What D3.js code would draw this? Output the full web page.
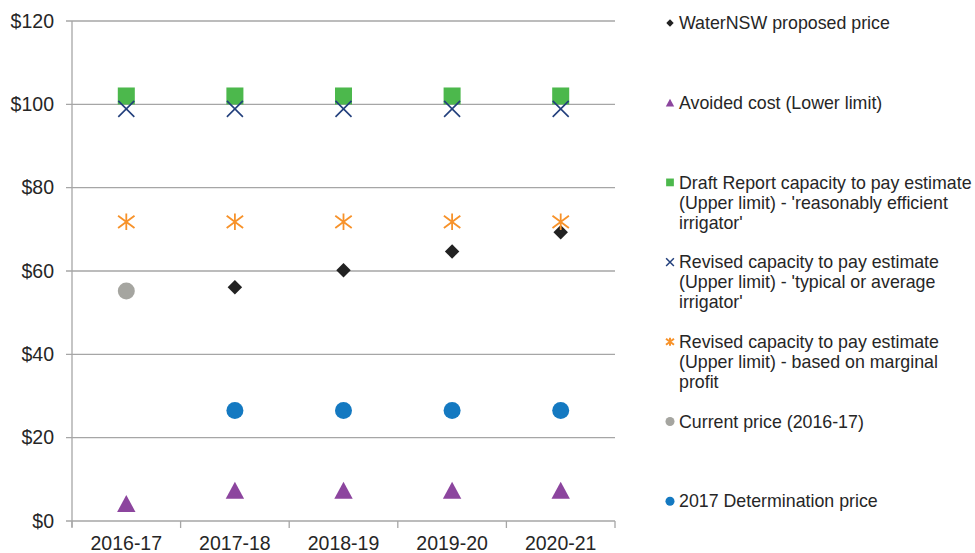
<!DOCTYPE html>
<html>
<head>
<meta charset="utf-8">
<script src="https://cdn.jsdelivr.net/npm/d3@7"></script>
<style>
  body { margin: 0; background: #fff; }
  svg text { font-family: "Liberation Sans", Arial, sans-serif; fill: #262626; }
</style>
</head>
<body>
<div id="chart"></div>
<script>
// categories and tick labels
var years = ["2016-17", "2017-18", "2018-19", "2019-20", "2020-21"];
var yTicks = [0, 20, 40, 60, 80, 100, 120];

// series values ($ per ML), null = no point
var waterNSW    = [null, 56.1, 60.2, 64.7, 69.3];
var avoidedCost = [4.2, 7.4, 7.4, 7.4, 7.4];
var draftCtp    = [102, 102, 102, 102, 102];
var revisedTyp  = [98.9, 98.9, 98.9, 98.9, 98.9];
var revisedMarg = [71.8, 71.8, 71.8, 71.8, 71.8];
var currentPrice = [55.2, null, null, null, null];
var determination = [null, 26.5, 26.5, 26.5, 26.5];

// legend labels (one array of lines per series)
var legendLabels = [
    ["WaterNSW proposed price"],
    ["Avoided cost (Lower limit)"],
    ["Draft Report capacity to pay estimate", "(Upper limit) - 'reasonably efficient", "irrigator'"],
    ["Revised capacity to pay estimate", "(Upper limit) - 'typical or average", "irrigator'"],
    ["Revised capacity to pay estimate", "(Upper limit) - based on marginal", "profit"],
    ["Current price (2016-17)"],
    ["2017 Determination price"]
];

// custom marker shapes
var diamond = { draw: function(ctx, size) {
    var r = Math.sqrt(size) / 2;
    ctx.moveTo(0, -r); ctx.lineTo(r, 0); ctx.lineTo(0, r); ctx.lineTo(-r, 0); ctx.closePath();
}};
var triangle = { draw: function(ctx, size) {
    var h = Math.sqrt(size) / 2;
    ctx.moveTo(0, -h); ctx.lineTo(h * 1.08, h); ctx.lineTo(-h * 1.08, h); ctx.closePath();
}};
var cross = { draw: function(ctx, size) {
    var r = Math.sqrt(size) / 2;
    ctx.moveTo(-r, -r); ctx.lineTo(r, r);
    ctx.moveTo(r, -r); ctx.lineTo(-r, r);
}};
var star = { draw: function(ctx, size) {
    var r = Math.sqrt(size) / 2;
    ctx.moveTo(-r, -r * 0.75); ctx.lineTo(r, r * 0.75);
    ctx.moveTo(r, -r * 0.75); ctx.lineTo(-r, r * 0.75);
    ctx.moveTo(0, -r); ctx.lineTo(0, r);
}};

var series = [
    { values: waterNSW,      shape: diamond,          size: 210, legSize: 55, color: "#222222", fill: true },
    { values: avoidedCost,   shape: triangle,         size: 290, legSize: 60, color: "#8c459e", fill: true },
    { values: draftCtp,      shape: d3.symbolSquare,  size: 290, legSize: 60, color: "#4cb84c", fill: true },
    { values: revisedTyp,    shape: cross,            size: 256, legSize: 60, color: "#223f7c", fill: false, width: 1.6, legWidth: 1.5 },
    { values: revisedMarg,   shape: star,             size: 270, legSize: 64, color: "#f7922a", fill: false, width: 1.8, legWidth: 2 },
    { values: currentPrice,  shape: d3.symbolCircle,  size: 227, legSize: 64, color: "#a5a5a0", fill: true },
    { values: determination, shape: d3.symbolCircle,  size: 227, legSize: 64, color: "#1479c1", fill: true }
];

var width = 975, height = 553;
var margin = { left: 72, right: 360, top: 21, bottom: 32 };

var svg = d3.select("#chart").append("svg")
    .attr("width", width)
    .attr("height", height);

var x = d3.scaleBand()
    .domain(years)
    .range([margin.left, width - margin.right])
    .padding(0);

var y = d3.scaleLinear()
    .domain([0, 120])
    .range([height - margin.bottom, margin.top]);

var axisColor = "#a6a6a6";

// gridlines + y tick marks
svg.append("g").selectAll("line")
    .data(yTicks)
    .enter().append("line")
    .attr("x1", margin.left - 6)
    .attr("x2", x.range()[1])
    .attr("y1", function(d) { return y(d); })
    .attr("y2", function(d) { return y(d); })
    .attr("stroke", axisColor)
    .attr("stroke-width", 1.3);

// y axis line
svg.append("line")
    .attr("x1", margin.left).attr("x2", margin.left)
    .attr("y1", y(120)).attr("y2", y(0) + 6)
    .attr("stroke", axisColor)
    .attr("stroke-width", 1.3);

// y labels
svg.append("g").selectAll("text")
    .data(yTicks)
    .enter().append("text")
    .attr("x", 54)
    .attr("y", function(d) { return y(d); })
    .attr("dy", "0.35em")
    .attr("text-anchor", "end")
    .attr("font-size", "19.5px")
    .text(function(d) { return "$" + d; });

// x tick marks at band edges
var edges = years.map(function(d) { return x(d); }).concat([x.range()[1]]);
svg.append("g").selectAll("line")
    .data(edges)
    .enter().append("line")
    .attr("x1", function(d) { return d; })
    .attr("x2", function(d) { return d; })
    .attr("y1", y(0))
    .attr("y2", y(0) + 7)
    .attr("stroke", axisColor)
    .attr("stroke-width", 1.3);

// x labels
svg.append("g").selectAll("text")
    .data(years)
    .enter().append("text")
    .attr("x", function(d) { return x(d) + x.bandwidth() / 2; })
    .attr("y", y(0) + 22)
    .attr("dy", "0.35em")
    .attr("text-anchor", "middle")
    .attr("font-size", "19.5px")
    .text(function(d) { return d; });

// points
series.forEach(function(s) {
    var pts = years.map(function(yr, i) { return { year: yr, value: s.values[i] }; })
        .filter(function(d) { return d.value != null; });
    svg.append("g").selectAll("path")
        .data(pts)
        .enter().append("path")
        .attr("transform", function(d) {
            return "translate(" + (x(d.year) + x.bandwidth() / 2) + "," + y(d.value) + ")";
        })
        .attr("d", d3.symbol().type(s.shape).size(s.size))
        .attr("fill", s.fill ? s.color : "none")
        .attr("stroke", s.fill ? "none" : s.color)
        .attr("stroke-width", s.width || 0);
});

// legend
var legX = 670, legTextX = 679, legTop = 23, legStep = 79.7, lineH = 20;
var leg = svg.append("g").selectAll("g")
    .data(series)
    .enter().append("g")
    .attr("transform", function(d, i) { return "translate(0," + (legTop + i * legStep) + ")"; });

leg.append("path")
    .attr("transform", "translate(" + legX + ",0)")
    .attr("d", function(s) { return d3.symbol().type(s.shape).size(s.legSize)(); })
    .attr("fill", function(s) { return s.fill ? s.color : "none"; })
    .attr("stroke", function(s) { return s.fill ? "none" : s.color; })
    .attr("stroke-width", function(s) { return s.legWidth || 0; });

leg.each(function(s, i) {
    var g = d3.select(this);
    legendLabels[i].forEach(function(line, k) {
        g.append("text")
            .attr("x", legTextX)
            .attr("y", k * lineH)
            .attr("dy", "0.35em")
            .attr("font-size", "17.8px")
            .text(line);
    });
});
</script>
</body>
</html>
